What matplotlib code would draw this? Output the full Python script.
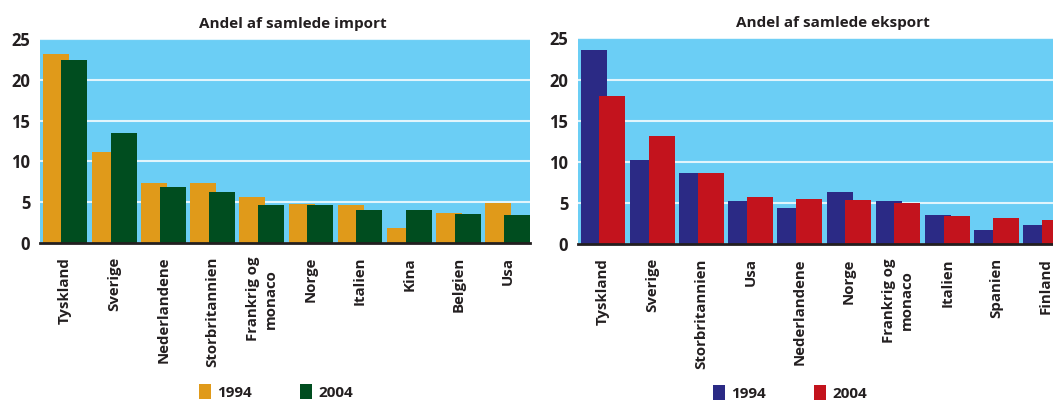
import numpy as np
import matplotlib.pyplot as plt

plt.rcParams["font.family"] = ["Open Sans", "DejaVu Sans"]

# import shares (%)
import_countries = ["Tyskland", "Sverige", "Nederlandene", "Storbritannien",
                    "Frankrig og\nmonaco", "Norge", "Italien", "Kina", "Belgien", "Usa"]
import_1994 = [23.2, 11.2, 7.3, 7.3, 5.6, 4.8, 4.6, 1.8, 3.7, 4.9]
import_2004 = [22.4, 13.5, 6.9, 6.2, 4.6, 4.6, 4.1, 4.1, 3.5, 3.4]

# export shares (%)
export_countries = ["Tyskland", "Sverige", "Storbritannien", "Usa", "Nederlandene",
                    "Norge", "Frankrig og\nmonaco", "Italien", "Spanien", "Finland"]
export_1994 = [23.6, 10.2, 8.7, 5.2, 4.4, 6.4, 5.2, 3.6, 1.7, 2.3]
export_2004 = [18.0, 13.2, 8.7, 5.8, 5.5, 5.4, 5.0, 3.4, 3.2, 2.9]

years = ["1994", "2004"]

BG = "#6BCEF5"
TEXT = "#231F20"
BAR_W = 0.53
OFFSET = 0.19

fig = plt.figure(figsize=(10.53, 4.01), dpi=100)


def panel(rect, title, cats, v1, v2, colours, legend_xy, title_shift):
    ax = fig.add_axes(rect)
    ax.set_facecolor(BG)
    x = np.arange(len(cats))
    b1 = ax.bar(x - OFFSET, v1, BAR_W, color=colours[0], zorder=3)
    b2 = ax.bar(x + OFFSET, v2, BAR_W, color=colours[1], zorder=4)
    ax.set_xlim(-0.51, len(cats) - 1 + OFFSET + BAR_W / 2)
    ax.set_ylim(0, 25)
    ax.set_yticks([0, 5, 10, 15, 20, 25])
    ax.yaxis.grid(True, color="white", linewidth=1.5, alpha=0.8, zorder=1)
    ax.set_axisbelow(True)
    for s in ["top", "right", "left"]:
        ax.spines[s].set_visible(False)
    ax.spines["bottom"].set_color(TEXT)
    ax.spines["bottom"].set_linewidth(2)
    ax.spines["bottom"].set_zorder(5)
    ax.tick_params(axis="y", length=0, pad=7, labelsize=12, labelcolor=TEXT)
    ax.tick_params(axis="x", length=0, pad=10)
    ax.set_xticks(x)
    ax.set_xticklabels(cats, rotation=90, va="top", ha="center",
                       fontsize=10.8, fontweight="bold", color=TEXT,
                       multialignment="center", linespacing=1.4)
    for lab in ax.get_yticklabels():
        lab.set_fontweight("bold")
    ax.set_title(title, fontsize=11, fontweight="bold", color=TEXT, pad=8,
                 x=0.5 + title_shift / 490)
    ax.legend([b1, b2], years, ncol=2, frameon=False, loc="center",
              bbox_to_anchor=legend_xy, bbox_transform=fig.transFigure,
              handlelength=0.75, handleheight=1.1, handletextpad=0.4,
              columnspacing=3.2, prop={"size": 11, "weight": "bold"},
              labelcolor=TEXT)
    return ax


panel([40 / 1053, 158 / 401, 490 / 1053, 204 / 401],
      "Andel af samlede import", import_countries, import_1994, import_2004,
      ["#E09A1A", "#004D1F"], (276 / 1053, 1 - 392 / 401), 8)
panel([578 / 1053, 156.7 / 401, 490 / 1053, 206 / 401],
      "Andel af samlede eksport", export_countries, export_1994, export_2004,
      ["#2B2A85", "#C3131D"], (790 / 1053, 1 - 393 / 401), 10)

fig.savefig("out.png", dpi=100)
